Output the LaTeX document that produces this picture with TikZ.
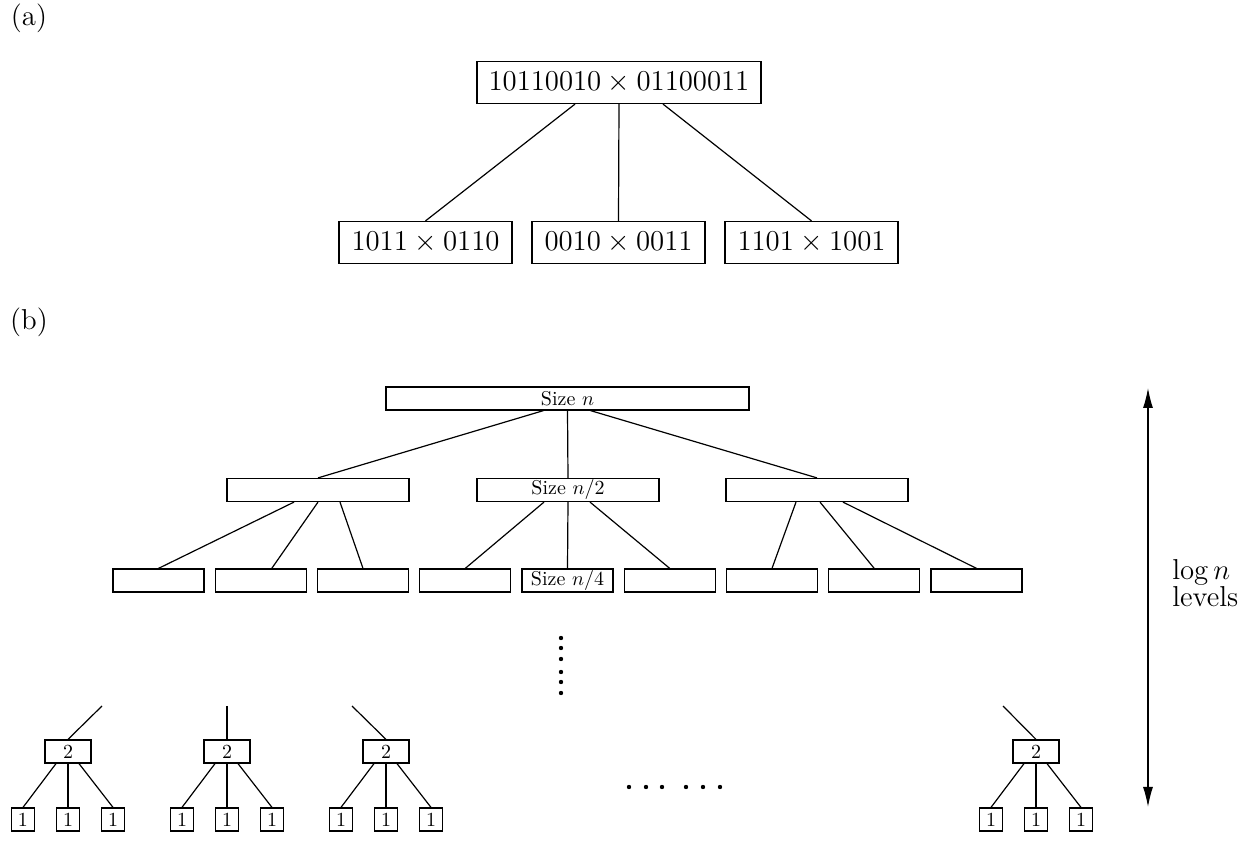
\documentclass[tikz,border=0pt]{standalone}
\usetikzlibrary{arrows.meta}
\begin{document}
\begin{tikzpicture}[
  x=0.5pt, y=-0.5pt, line width=0.6pt,
  prodbox/.style={draw, inner sep=0pt, minimum height=21pt, font=\fontsize{14.4}{17}\selectfont},
  sizebox/.style={draw, inner sep=0pt, minimum height=11.5pt, font=\fontsize{10}{12}\selectfont},
  leafbox/.style={sizebox, minimum width=11.5pt},
  caption/.style={font=\fontsize{14.4}{17}\selectfont}
]
  \useasboundingbox (0,0) rectangle (1250,845);

  % (a)
  \node[caption] (capa) at (29,18) {(a)};
  \node[prodbox, minimum width=142pt] (top) at (619,82.5) {$10110010\times01100011$};
  \node[prodbox, minimum width=86.5pt] (left) at (425.5,242.5) {$1011\times0110$};
  \node[prodbox, minimum width=86.5pt] (mid) at (618.5,242.5) {$0010\times0011$};
  \node[prodbox, minimum width=86.5pt] (right) at (811.5,242.5) {$1101\times1001$};
  \draw ([xshift=-22pt]top.south) -- (left.north);
  \draw (top.south) -- (mid.north);
  \draw ([xshift=22pt]top.south) -- (right.north);

  % (b)
  \node[caption] (capb) at (29,322) {(b)};
  \node[sizebox, minimum width=181.5pt] (root) at (567.5,398.5) {Size $n$};
  \node[sizebox, minimum width=91pt] (L) at (318,490) {};
  \node[sizebox, minimum width=91pt] (M) at (568,490) {Size $n/2$};
  \node[sizebox, minimum width=91pt] (R) at (817,490) {};
  \draw ([xshift=-12pt]root.south) -- (L.north);
  \draw (root.south) -- (M.north);
  \draw ([xshift=11.5pt]root.south) -- (R.north);

  \foreach \i/\t in {1/,2/,3/,4/,5/{Size $n/4$},6/,7/,8/,9/}
    \node[sizebox, minimum width=45.5pt] (c\i) at ({158.5+(\i-1)*102.25},580.5) {\t};

  \draw ([xshift=-12pt]L.south) -- (c1.north);
  \draw (L.south) -- ([xshift=5.5pt]c2.north);
  \draw ([xshift=11pt]L.south) -- (c3.north);
  \draw ([xshift=-12pt]M.south) -- (c4.north);
  \draw (M.south) -- (c5.north);
  \draw ([xshift=11pt]M.south) -- (c6.north);
  \draw ([xshift=-10.5pt]R.south) -- (c7.north);
  \draw ([xshift=1.5pt]R.south) -- (c8.north);
  \draw ([xshift=13pt]R.south) -- (c9.north);

  \foreach \y in {638,648,659,672,682,693}
    \fill (561,\y) circle (1.1pt);
  \foreach \x in {629,646,662,686,703,720}
    \fill (\x,787) circle (1.1pt);

  % bottom level
  \foreach \g/\cx/\dx in {p/68/34, q/227/0, r/386/-34, s/1036/-33} {
    \node[sizebox, minimum width=23pt] (\g) at (\cx,751.5) {2};
    \coordinate (\g up) at (\cx+\dx,706);
    \draw (\g up) -- (\g.north);
    \foreach \k/\o/\s in {1/-45/-6, 2/0/0, 3/45/5.5} {
      \node[leafbox] (\g\k) at (\cx+\o,819.5) {1};
      \draw ([xshift=\s pt]\g.south) -- (\g\k.north);
    }
  }

  % levels arrow
  \coordinate (atop) at (1148,388);
  \coordinate (abot) at (1148,807);
  \draw[{Latex[length=10pt,width=5pt]}-{Latex[length=10pt,width=5pt]}] (atop) -- (abot);
  \node[caption, anchor=west, align=left, font=\fontsize{14.4}{12}\selectfont] (lev) at (1165,583) {$\log n$\\levels};
\end{tikzpicture}
\end{document}
